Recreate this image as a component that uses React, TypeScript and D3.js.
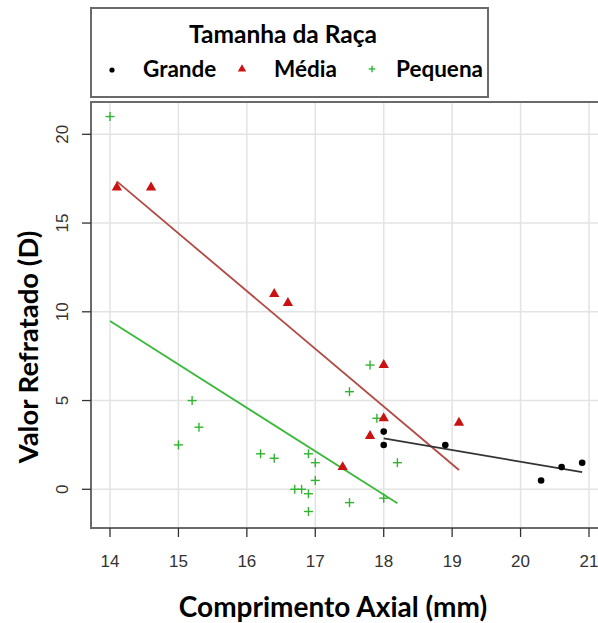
import React from 'react';
import * as d3 from 'd3';

const width = 598;
const height = 623;

// Tamanho da raça: Grande
const grandeX = [18, 18, 18.9, 20.3, 20.6, 20.9];
const grandeY = [3.25, 2.5, 2.5, 0.5, 1.25, 1.5];

// Média
const mediaX = [14.1, 14.6, 16.4, 16.6, 17.4, 17.8, 18, 18, 19.1];
const mediaY = [17, 17, 11, 10.5, 1.25, 3, 7, 4, 3.75];

// Pequena
const pequenaX = [14, 15.2, 15.3, 15, 16.2, 16.4, 16.9, 17, 17, 16.7, 16.8, 16.9, 16.9, 17.8, 17.5, 17.9, 18.2, 17.5, 18];
const pequenaY = [21, 5, 3.5, 2.5, 2, 1.75, 2, 1.5, 0.5, 0, 0, -0.25, -1.25, 7, 5.5, 4, 1.5, -0.75, -0.5];

const xTicks = [14, 15, 16, 17, 18, 19, 20, 21];
const yTicks = [0, 5, 10, 15, 20];

const legendLabels = ['Grande', 'Média', 'Pequena'];

const x = d3.scaleLinear().domain([14, 21]).range([110, 589]);
const y = d3.scaleLinear().domain([0, 20]).range([489.3, 134.3]);

const frame = { left: 91, top: 102, right: 610, bottom: 528 };

// least squares fit, drawn over the range of x
function fit(xs: number[], ys: number[]) {
  const mx = d3.mean(xs) as number;
  const my = d3.mean(ys) as number;
  let sxy = 0;
  let sxx = 0;
  xs.forEach((v, i) => {
    sxy += (v - mx) * (ys[i] - my);
    sxx += (v - mx) * (v - mx);
  });
  const b = sxy / sxx;
  const a = my - b * mx;
  const [x0, x1] = d3.extent(xs) as [number, number];
  return [
    [x0, a + b * x0],
    [x1, a + b * x1],
  ];
}

const line = d3
  .line<number[]>()
  .x(d => x(d[0]))
  .y(d => y(d[1]));

const triangle = d3.symbol(d3.symbolTriangle, 46);
const triangleSmall = d3.symbol(d3.symbolTriangle, 30);

const GREEN = '#2fb52f';
const RED = '#cc1111';
const SANS = 'Liberation Sans, Arial, sans-serif';
const TITLE = 'Lato, Noto Sans, sans-serif';

const Plus = ({ cx, cy, r, color }: { cx: number; cy: number; r: number; color: string }) => (
  <g stroke={color} strokeWidth={1.4}>
    <line x1={cx - r} x2={cx + r} y1={cy} y2={cy} />
    <line x1={cx} x2={cx} y1={cy - r} y2={cy + r} />
  </g>
);

const App = () => {
  const fitMedia = fit(mediaX, mediaY);
  const fitPequena = fit(pequenaX, pequenaY);
  const fitGrande = fit(grandeX, grandeY);

  return (
    <svg
      width={width}
      height={height}
      style={{ position: 'absolute', left: 0, top: 0, background: '#fff' }}
    >
      {/* grid */}
      <g stroke="#e3e3e3" strokeWidth={1.5}>
        {xTicks.map(t => (
          <line key={'gx' + t} x1={x(t)} x2={x(t)} y1={frame.top} y2={frame.bottom} />
        ))}
        {yTicks.map(t => (
          <line key={'gy' + t} x1={frame.left} x2={frame.right} y1={y(t)} y2={y(t)} />
        ))}
      </g>

      {/* regression lines */}
      <path d={line(fitMedia as number[][]) || ''} stroke="#b24a44" strokeWidth={1.8} fill="none" />
      <path d={line(fitPequena as number[][]) || ''} stroke="#3cb83c" strokeWidth={1.8} fill="none" />
      <path d={line(fitGrande as number[][]) || ''} stroke="#333" strokeWidth={1.8} fill="none" />

      {/* points */}
      {pequenaX.map((v, i) => (
        <Plus key={'p' + i} cx={x(v)} cy={y(pequenaY[i])} r={4.5} color={GREEN} />
      ))}
      {mediaX.map((v, i) => (
        <path
          key={'m' + i}
          d={triangle() || ''}
          transform={`translate(${x(v)},${y(mediaY[i])})`}
          fill={RED}
        />
      ))}
      {grandeX.map((v, i) => (
        <circle key={'g' + i} cx={x(v)} cy={y(grandeY[i])} r={3.3} fill="#000" />
      ))}

      {/* frame */}
      <rect
        x={frame.left}
        y={frame.top}
        width={frame.right - frame.left}
        height={frame.bottom - frame.top}
        fill="none"
        stroke="#6a6a6a"
        strokeWidth={2}
      />

      {/* x axis */}
      <g>
        {xTicks.map(t => (
          <g key={'tx' + t}>
            <line x1={x(t)} x2={x(t)} y1={frame.bottom} y2={537} stroke="#333" strokeWidth={1.3} />
            <text x={x(t)} y={567} textAnchor="middle" fontFamily={SANS} fontSize={17} fill="#333">
              {t}
            </text>
          </g>
        ))}
      </g>

      {/* y axis */}
      <g>
        {yTicks.map(t => (
          <g key={'ty' + t}>
            <line x1={82} x2={frame.left} y1={y(t)} y2={y(t)} stroke="#333" strokeWidth={1.3} />
            <text
              transform={`translate(68,${y(t)}) rotate(-90)`}
              textAnchor="middle"
              fontFamily={SANS}
              fontSize={17}
              fill="#333"
            >
              {t}
            </text>
          </g>
        ))}
      </g>

      {/* axis titles */}
      <text x={333} y={617} textAnchor="middle" fontFamily={TITLE} fontWeight="bold" fontSize={28} fill="#000">
        Comprimento Axial (mm)
      </text>
      <text
        transform="translate(38,347) rotate(-90)"
        textAnchor="middle"
        fontFamily={TITLE}
        fontWeight="bold"
        fontSize={27.5}
        fill="#000"
      >
        Valor Refratado (D)
      </text>

      {/* legend */}
      <rect x={91} y={8} width={397} height={89} fill="#fff" stroke="#6a6a6a" strokeWidth={2} />
      <text x={283} y={43} textAnchor="middle" fontFamily={TITLE} fontWeight="bold" fontSize={24.5} fill="#000">
        Tamanha da Raça
      </text>
      <circle cx={112} cy={70} r={2.6} fill="#000" />
      <text x={143} y={77} fontFamily={TITLE} fontWeight="bold" fontSize={22.5} fill="#000">
        {legendLabels[0]}
      </text>
      <path d={triangleSmall() || ''} transform="translate(242,69)" fill={RED} />
      <text x={274} y={77} fontFamily={TITLE} fontWeight="bold" fontSize={22.5} fill="#000">
        {legendLabels[1]}
      </text>
      <Plus cx={372} cy={69} r={3.3} color={GREEN} />
      <text x={396} y={77} fontFamily={TITLE} fontWeight="bold" fontSize={22.5} fill="#000">
        {legendLabels[2]}
      </text>
    </svg>
  );
};

export default App;
